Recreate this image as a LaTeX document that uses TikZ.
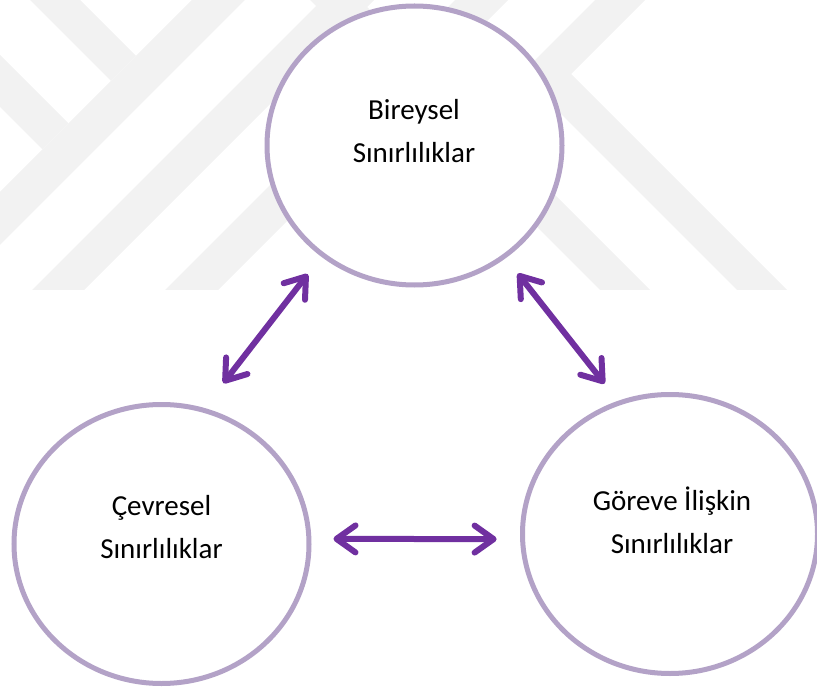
\documentclass[tikz,border=0pt]{standalone}
\usepackage{fontspec}
\setmainfont{Carlito}
\usetikzlibrary{arrows.meta,shapes.geometric}

\definecolor{ringpurple}{HTML}{B3A2C7}
\definecolor{arrowpurple}{HTML}{7030A0}

\begin{document}
\begin{tikzpicture}[
    x=1pt, y=-1pt,
    ring/.style={ellipse, draw=ringpurple, line width=5pt, fill=white, minimum width=295pt, minimum height=279pt, inner sep=0pt, outer sep=0pt},
    txt/.style={align=center, font=\fontsize{29}{43}\selectfont},
    arrow/.style={{Straight Barb[round,length=19pt,width=27pt]}-{Straight Barb[round,length=19pt,width=27pt]}, draw=arrowpurple, line width=6pt, line cap=round},
    wmark/.style={fill=black!5}
]
\useasboundingbox (0,0) rectangle (817,687);

% Watermark bands
\begin{scope}
\clip (0,0) rectangle (817,290);
\fill[wmark] (202,-10) -- (255,-10) -- (-55,300) -- (-108,300) -- cycle;
\fill[wmark] (20,-10) -- (70,-10) -- (136,56) -- (111,81) -- cycle;
\fill[wmark] (-10,45) -- (68.5,123.5) -- (42.5,149.5) -- (-10,97) -- cycle;
\fill[wmark] (332,-10) -- (384,-10) -- (74,300) -- (22,300) -- cycle;
\fill[wmark] (465,-10) -- (518,-10) -- (208,300) -- (155,300) -- cycle;
\fill[wmark] (300,-10) -- (350,-10) -- (660,300) -- (610,300) -- cycle;
\fill[wmark] (605,-10) -- (655,-10) -- (571,74) -- (797,300) -- (747,300) -- (521,74) -- cycle;
\end{scope}

% Circles
\node[ring] (indiv) at (414.5,145.5) {};
\node[ring] (env) at (161.5,544) {};
\node[ring] (task) at (670,534) {};

% Texts
\node[txt] (indiv-txt) at (414,131) {Bireysel\\Sınırlılıklar};
\node[txt] (env-txt) at (161.5,527) {Çevresel\\Sınırlılıklar};
\node[txt] (task-txt) at (672,520) {Göreve İlişkin\\Sınırlılıklar};

% Arrows
\draw[arrow, shorten <=24.5pt, shorten >=34pt] (indiv.230) -- (env.73);
\draw[arrow, shorten <=22pt, shorten >=24.5pt] (indiv.309) -- (task.111.5);
\draw[arrow, shorten <=24.6pt, shorten >=26pt] (env.2) -- (task.182);

\end{tikzpicture}
\end{document}
